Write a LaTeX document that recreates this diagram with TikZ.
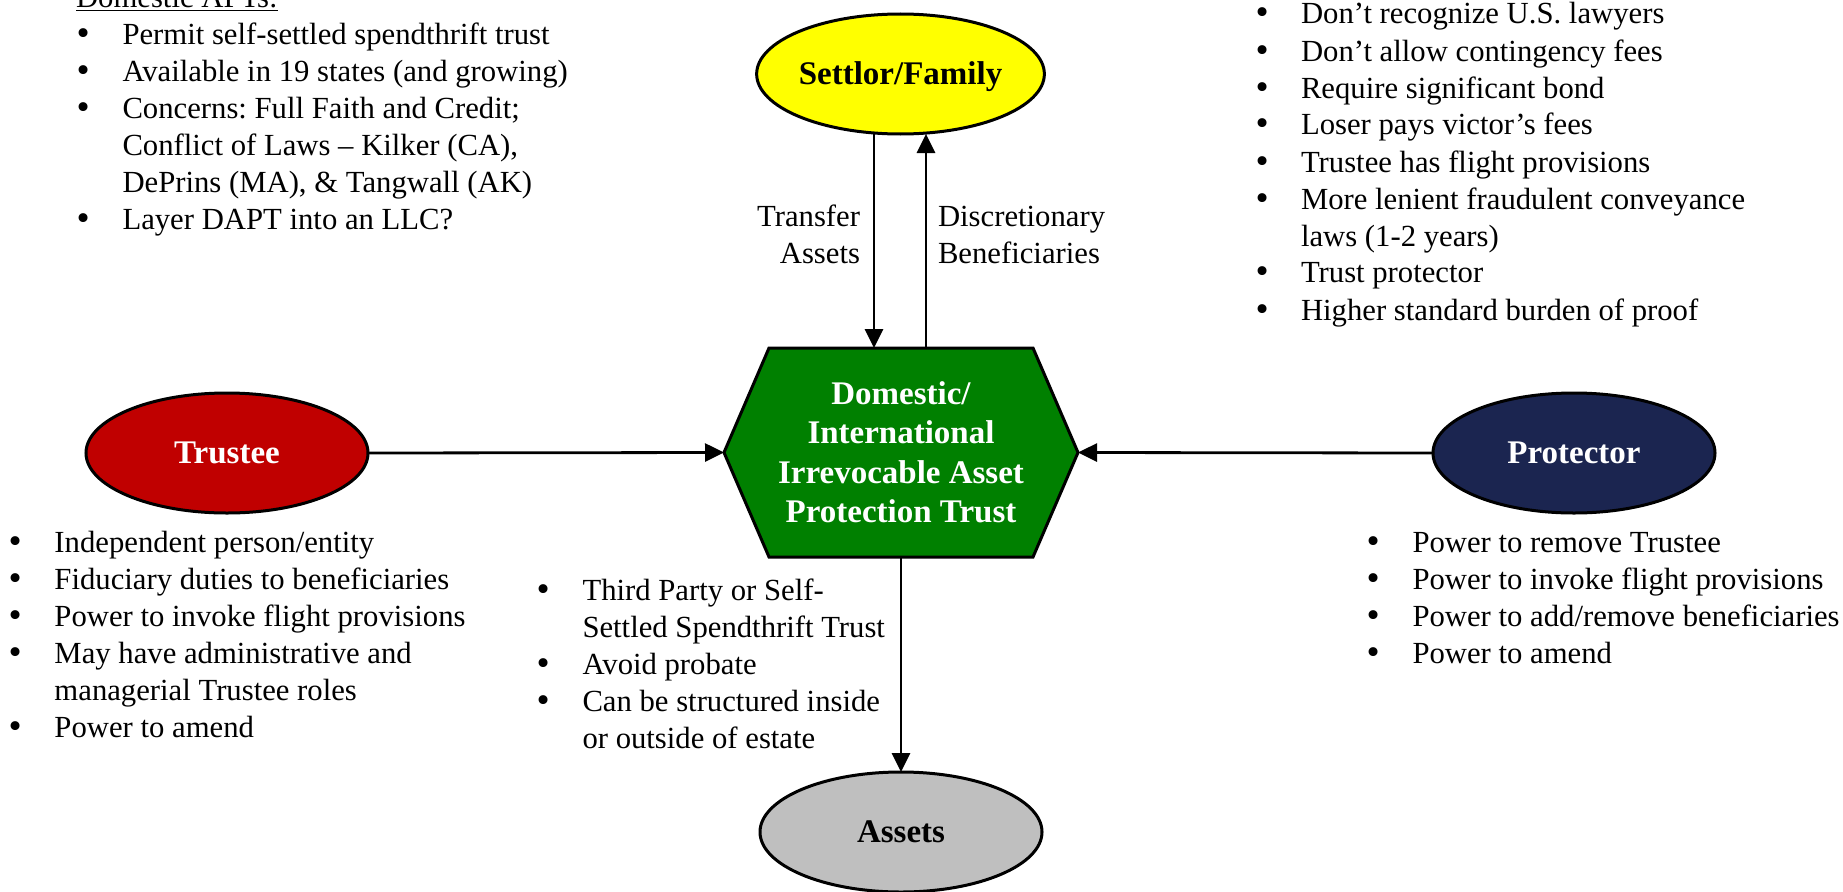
\documentclass[tikz,border=0pt]{standalone}
\usepackage{fontspec}
\setmainfont{Liberation Serif}
\newfontfamily\bulletfont{DejaVu Sans}
\usetikzlibrary{shapes.geometric,arrows.meta,calc}

\definecolor{settlorfill}{HTML}{FFFF00}
\definecolor{trusteefill}{HTML}{C00000}
\definecolor{protectorfill}{HTML}{1B2550}
\definecolor{trustfill}{HTML}{008000}
\definecolor{assetfill}{HTML}{BFBFBF}

\newcommand\bodyfont{\fontsize{30.7}{37}\selectfont}
\newcommand\titlefont{\fontsize{33}{39.5}\selectfont\bfseries}
% list bullet, centred in a fixed-width slot
\newcommand\blt{\makebox[15.4pt][c]{\bulletfont •}}

\begin{document}
\frenchspacing
\begin{tikzpicture}[x=1pt,y=-1pt,
  every node/.style={inner sep=0pt, outer sep=0pt},
  party/.style={ellipse, draw=black, line width=3pt,
    minimum width=282pt, minimum height=120pt,
    font=\titlefont, text height=21pt, text depth=0pt},
  conn/.style={line width=2.8pt, -{Triangle[length=19pt,width=18pt]}},
  listtext/.style={anchor=base west, font=\bodyfont},
  edgetext/.style={font=\bodyfont},
  hexframe/.style={draw=black, line width=3pt, fill=trustfill, line join=miter}
]
\useasboundingbox (0,0) rectangle (1843,891);

% central trust: an invisible frame, drawn as a hexagon below
\node[minimum width=354pt, minimum height=209pt] (trust) at (901,452.5) {};
\draw[hexframe]
  ($(trust.north west)+(45,0)$) -- ($(trust.north east)+(-45,0)$) -- (trust.east)
  -- ($(trust.south east)+(-45,0)$) -- ($(trust.south west)+(45,0)$) -- (trust.west) -- cycle;
\node[anchor=base, font=\titlefont, text=white] (trusttext) at (901,404)
  {\begin{tabular}[t]{@{}c@{}}Domestic/\\International\\Irrevocable Asset\\Protection Trust\end{tabular}};

% the four parties
\node[party, fill=settlorfill] (settlor) at (900.5,74) {Settlor/Family};
\node[party, fill=trusteefill, text=white] (trustee) at (227,453) {Trustee};
\node[party, fill=protectorfill, text=white] (protector) at (1574,453) {Protector};
\node[party, fill=assetfill] (assets) at (901,832) {Assets};

% connectors
\coordinate (tin) at ($(trust.north)+(-27,0)$);
\coordinate (tout) at ($(trust.north)+(25,0)$);
\draw[conn] (settlor.south -| tin) -- (tin);
\draw[conn] (tout) -- (settlor.south -| tout);
\draw[conn] (trustee.east) -- (trust.west);
\draw[conn] (protector.west) -- (trust.east);
\draw[conn] (trust.south) -- (assets.north);

% labels on the settlor connectors
\node[edgetext, anchor=base east] (transferlbl) at (860,226)
  {\begin{tabular}[t]{@{}r@{}}Transfer\\Assets\end{tabular}};
\node[edgetext, anchor=base west] (benelbl) at (938,226)
  {\begin{tabular}[t]{@{}l@{}}Discretionary\\Beneficiaries\end{tabular}};

% bullet lists
\node[listtext] (domlist) at (76,8) {\begin{tabular}[t]{@{}p{46.5pt}@{}l@{}}
  \multicolumn{2}{@{}l@{}}{\underline{Domestic APTs:}}\\
  \blt & Permit self-settled spendthrift trust\\
  \blt & Available in 19 states (and growing)\\
  \blt & Concerns: Full Faith and Credit;\\
       & Conflict of Laws – Kilker (CA),\\
       & DePrins (MA), \& Tangwall (AK)\\
  \blt & Layer DAPT into an LLC?
\end{tabular}};

\node[listtext] (intlist) at (1255,24) {\begin{tabular}[t]{@{}p{46pt}@{}l@{}}
  \blt & Don’t recognize U.S. lawyers\\
  \blt & Don’t allow contingency fees\\
  \blt & Require significant bond\\
  \blt & Loser pays victor’s fees\\
  \blt & Trustee has flight provisions\\
  \blt & More lenient fraudulent conveyance\\
       & laws (1-2 years)\\
  \blt & Trust protector\\
  \blt & Higher standard burden of proof
\end{tabular}};

\node[listtext] (trusteelist) at (8,552) {\begin{tabular}[t]{@{}p{46.5pt}@{}l@{}}
  \blt & Independent person/entity\\
  \blt & Fiduciary duties to beneficiaries\\
  \blt & Power to invoke flight provisions\\
  \blt & May have administrative and\\
       & managerial Trustee roles\\
  \blt & Power to amend
\end{tabular}};

\node[listtext] (trustlist) at (536,600) {\begin{tabular}[t]{@{}p{46.5pt}@{}l@{}}
  \blt & Third Party or Self-\\
       & Settled Spendthrift Trust\\
  \blt & Avoid probate\\
  \blt & Can be structured inside\\
       & or outside of estate
\end{tabular}};

\node[listtext] (protectorlist) at (1366,552) {\begin{tabular}[t]{@{}p{46.5pt}@{}l@{}}
  \blt & Power to remove Trustee\\
  \blt & Power to invoke flight provisions\\
  \blt & Power to add/remove beneficiaries\\
  \blt & Power to amend
\end{tabular}};
\end{tikzpicture}
\end{document}
